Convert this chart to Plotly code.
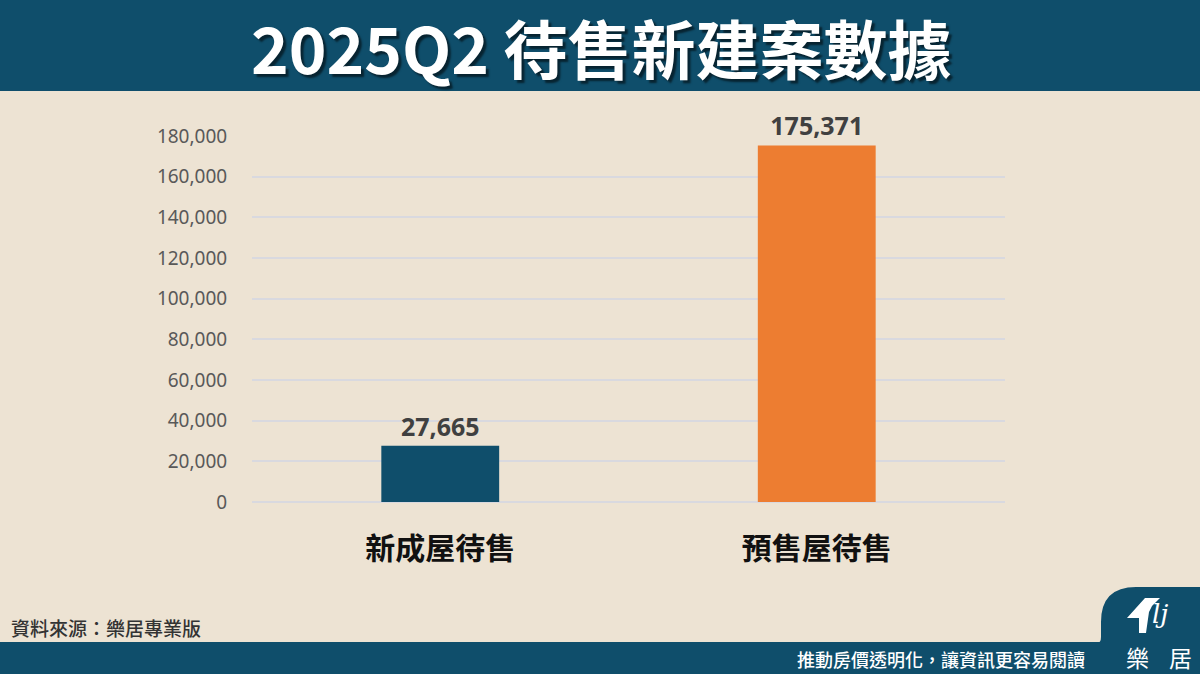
import plotly.graph_objects as go

categories = ["新成屋待售", "預售屋待售"]
values = [27665, 175371]
bar_colors = ["#0f4e6b", "#ed7d31"]
y_ticks = [0, 20000, 40000, 60000, 80000, 100000, 120000, 140000, 160000, 180000]
y_tick_labels = ["0", "20,000", "40,000", "60,000", "80,000", "100,000", "120,000", "140,000", "160,000", "180,000"]

W, H = 1200, 674
L, R, T, B = 252, 1005, 136, 502
BG = "#ede3d3"
DARK = "#0f4e6b"
FONT = "Noto Sans CJK TC"


def px(x):
    return (x - L) / (R - L)


def py(y):
    return (B - y) / (B - T)


fig = go.Figure()
fig.add_trace(go.Bar(
    x=categories, y=values,
    marker=dict(color=bar_colors, line=dict(width=0)),
    text=[f"{v:,}" for v in values],
    textposition="outside",
    textfont=dict(family="Noto Sans", size=25, color="#404040", weight="bold"),
    cliponaxis=False,
    width=0.313,
    hoverinfo="skip",
))

shapes = []
shapes.append(dict(type="rect", xref="paper", yref="paper", x0=px(0), x1=px(W), y0=py(91), y1=py(0),
                   fillcolor=DARK, line=dict(width=0), layer="below"))
shapes.append(dict(type="rect", xref="paper", yref="paper", x0=px(0), x1=px(W), y0=py(H), y1=py(642),
                   fillcolor=DARK, line=dict(width=0), layer="below"))


def P(x, y):
    return f"{px(x):.5f},{py(y):.5f}"


path = (f"M {P(1090,643)} L {P(1097,643)} Q {P(1101,643)} {P(1101,637)} L {P(1101,622)} "
        f"Q {P(1101,587)} {P(1136,587)} L {P(1200,587)} L {P(1200,643)} Z")
shapes.append(dict(type="path", xref="paper", yref="paper", path=path, fillcolor=DARK,
                   line=dict(width=0), layer="below"))
house = (f"M {P(1127,618)} L {P(1145,598)} L {P(1160,598)} L {P(1152,606)} L {P(1149,612)} "
         f"L {P(1146,633)} L {P(1139,633)} L {P(1139,618)} Z")
shapes.append(dict(type="path", xref="paper", yref="paper", path=house, fillcolor="white",
                   line=dict(width=0)))

annotations = []
title = "2025Q2 待售新建案數據"
annotations.append(dict(text=title, xref="paper", yref="paper", x=px(601), y=py(46),
                        showarrow=False, xanchor="center", yanchor="middle",
                        font=dict(family=FONT, size=64, color="white", weight="bold",
                                  shadow="3px 3px 2px rgba(0,0,0,0.55)")))
annotations.append(dict(text="資料來源：樂居專業版", xref="paper", yref="paper", x=px(9), y=py(627),
                        showarrow=False, xanchor="left", yanchor="middle",
                        font=dict(family=FONT, size=19, color="#333333", weight=500)))
annotations.append(dict(text="推動房價透明化，讓資訊更容易閱讀", xref="paper", yref="paper", x=px(1087), y=py(659),
                        showarrow=False, xanchor="right", yanchor="middle",
                        font=dict(family=FONT, size=18, color="white", weight=500)))
annotations.append(dict(text="<i>lj</i>", xref="paper", yref="paper", x=px(1160), y=py(614),
                        showarrow=False, xanchor="center", yanchor="middle",
                        font=dict(family="DejaVu Serif", size=26, color="white")))
annotations.append(dict(text="樂", xref="paper", yref="paper", x=px(1137), y=py(657),
                        showarrow=False, xanchor="center", yanchor="middle",
                        font=dict(family=FONT, size=23, color="white")))
annotations.append(dict(text="居", xref="paper", yref="paper", x=px(1180), y=py(657),
                        showarrow=False, xanchor="center", yanchor="middle",
                        font=dict(family=FONT, size=23, color="white")))

fig.update_layout(
    width=W, height=H,
    margin=dict(l=L, r=W - R, t=T, b=H - B, pad=0),
    paper_bgcolor=BG, plot_bgcolor=BG,
    showlegend=False,
    shapes=shapes,
    annotations=annotations,
    bargap=0.687,
    xaxis=dict(
        showgrid=False, zeroline=False, showline=False,
        ticks="outside", ticklen=20, tickcolor="rgba(0,0,0,0)",
        tickfont=dict(family=FONT, size=30, color="#111111", weight="bold"),
        fixedrange=True,
    ),
    yaxis=dict(
        range=[0, 180000],
        tickvals=y_ticks, ticktext=y_tick_labels,
        showgrid=True, gridcolor="#d9d9df", gridwidth=1.5,
        zeroline=True, zerolinecolor="#d9d9df", zerolinewidth=1.5,
        showline=False,
        ticks="outside", ticklen=20, tickcolor="rgba(0,0,0,0)",
        tickfont=dict(family="Noto Sans", size=19, color="#595959"),
        fixedrange=True,
    ),
)

fig.write_html("out.html")
